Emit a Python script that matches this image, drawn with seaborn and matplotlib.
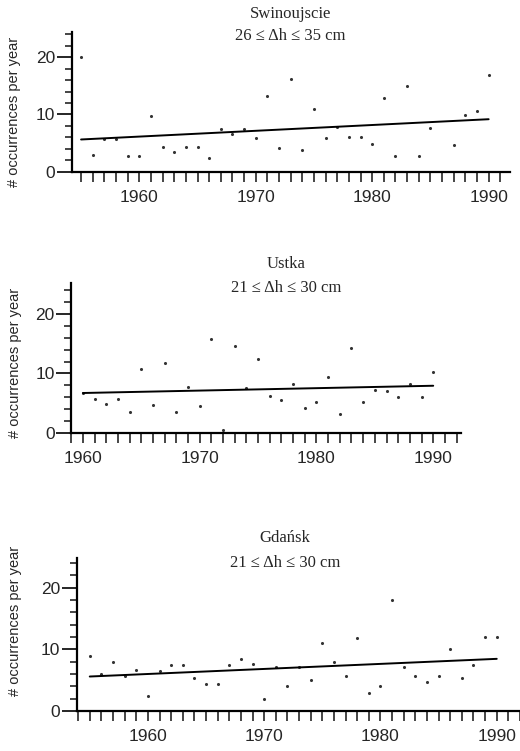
import numpy as np
import pandas as pd
import matplotlib
matplotlib.use('Agg')
import matplotlib.pyplot as plt
import seaborn as sns
from matplotlib.ticker import MultipleLocator

# occurrences per year
swin_years = [1955, 1956, 1957, 1958, 1959, 1960, 1961, 1962, 1963, 1964, 1965, 1966,
              1967, 1968, 1969, 1970, 1971, 1972, 1973, 1974, 1975, 1976, 1977, 1978,
              1979, 1980, 1981, 1982, 1983, 1984, 1985, 1987, 1988, 1989, 1990]
swin_counts = [20.0, 2.9, 5.7, 5.7, 2.7, 2.7, 9.7, 4.4, 3.4, 4.4, 4.4, 2.4,
               7.4, 6.6, 7.4, 5.9, 13.2, 4.1, 16.2, 3.9, 11.0, 5.9, 7.9, 6.1,
               6.1, 4.9, 12.9, 2.8, 15.0, 2.7, 7.7, 4.7, 9.9, 10.6, 16.9]

ustka_years = list(range(1960, 1991))
ustka_counts = [6.8, 5.7, 4.9, 5.8, 3.6, 10.8, 4.7, 11.8, 3.5, 7.8, 4.6,
                15.8, 0.5, 14.6, 7.5, 12.5, 6.3, 5.6, 8.3, 4.2, 5.3,
                9.4, 3.2, 14.3, 5.3, 7.2, 7.0, 6.1, 8.2, 6.1, 10.3]

gdansk_years = list(range(1955, 1991))
gdansk_counts = [8.9, 6.0, 7.9, 5.7, 6.6, 2.5, 6.5, 7.4, 7.4, 5.4, 4.4, 4.4,
                 7.4, 8.4, 7.6, 2.0, 7.1, 4.0, 7.1, 5.1, 11.1, 8.0, 5.7, 11.9,
                 3.0, 4.0, 18.0, 7.1, 5.7, 4.7, 5.7, 10.0, 5.4, 7.5, 12.0, 12.0]

stations = ['Swinoujscie', 'Ustka', 'Gdańsk']
bands = ['26 ≤ Δh ≤ 35 cm', '21 ≤ Δh ≤ 30 cm', '21 ≤ Δh ≤ 30 cm']

sns.set_style("ticks")
plt.rcParams['font.family'] = ['Liberation Sans', 'DejaVu Sans']


def plot_station(ax, years, counts, station, band, xlim, ytop, title_x, ylab_x, ylab_y):
    df = pd.DataFrame({'year': years, 'count': counts})
    sns.regplot(data=df, x='year', y='count', ax=ax, ci=None, truncate=True,
                scatter_kws={'s': 5, 'color': 'black', 'linewidths': 0},
                line_kws={'color': 'black', 'lw': 1.4})

    # only left and bottom axis lines
    sns.despine(ax=ax)
    for axis in ['bottom', 'left']:
        ax.spines[axis].set_linewidth(1.6)
        ax.spines[axis].set_color('black')

    ax.set_xlim(*xlim)
    ax.set_ylim(0, ytop)
    ax.xaxis.set_major_locator(MultipleLocator(10))
    ax.xaxis.set_minor_locator(MultipleLocator(1))
    ax.yaxis.set_major_locator(MultipleLocator(10))
    ax.yaxis.set_minor_locator(MultipleLocator(2))
    ax.tick_params(axis='x', which='both', length=7, width=1.2, labelsize=12.5, pad=6)
    ax.tick_params(axis='y', which='major', length=11, width=1.4, labelsize=12.5, pad=1)
    ax.tick_params(axis='y', which='minor', length=5, width=1.2)

    ax.set_xlabel('')
    ax.set_ylabel('# occurrences per year', fontsize=10.5)
    ax.yaxis.set_label_coords(ylab_x, ylab_y)

    # station name and water level band, serif like the original
    ax.text(title_x, 1.13, station, transform=ax.transAxes, ha='center', va='center',
            family='Liberation Serif', fontsize=12)
    ax.text(title_x, 0.97, band, transform=ax.transAxes, ha='center', va='center',
            family='Liberation Serif', fontsize=12)


fig = plt.figure(figsize=(5.2, 7.51), dpi=100)
ax1 = fig.add_axes([0.138, 0.771, 0.842, 0.186])
ax2 = fig.add_axes([0.137, 0.423, 0.75, 0.20])
ax3 = fig.add_axes([0.148, 0.053, 0.852, 0.204])

plot_station(ax1, swin_years, swin_counts, stations[0], bands[0], (1954.2, 1991.8), 24.3, 0.50, -0.115, 0.43)
plot_station(ax2, ustka_years, ustka_counts, stations[1], bands[1], (1959.0, 1992.4), 25.1, 0.55, -0.125, 0.47)
plot_station(ax3, gdansk_years, gdansk_counts, stations[2], bands[2], (1953.9, 1992.0), 24.8, 0.47, -0.125, 0.59)

fig.savefig('out.png', dpi=100)
